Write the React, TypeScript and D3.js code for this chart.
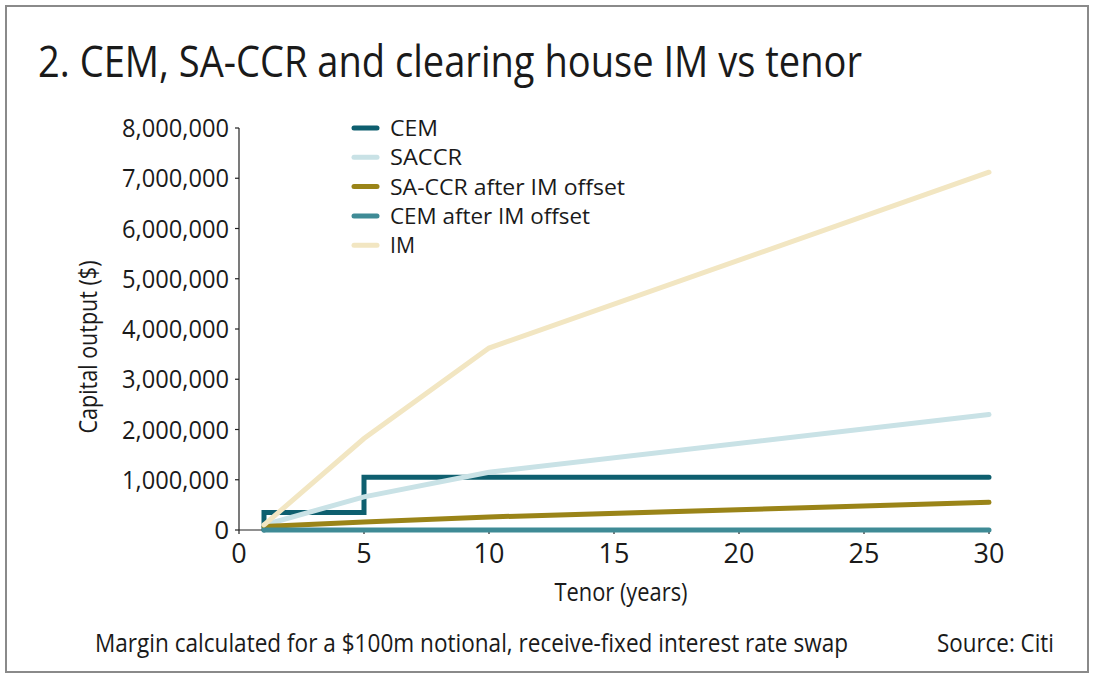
import React from "react";
import * as d3 from "d3";

const W = 1095;
const H = 680;

const tenors = [1, 5, 10, 30];
const cemTenors = [1, 1, 5, 10, 30];
const cemValues = [0, 350000, 1050000, 1050000, 1050000];
const saccrValues = [100000, 660000, 1150000, 2300000];
const saccrAfterIM = [70000, 160000, 260000, 550000];
const cemAfterIM = [0, 0, 0, 0];
const imValues = [100000, 1820000, 3620000, 7120000];

const xTicks = [0, 5, 10, 15, 20, 25, 30];
const yTicks = [0, 1000000, 2000000, 3000000, 4000000, 5000000, 6000000, 7000000, 8000000];

const legendNames = ["CEM", "SACCR", "SA-CCR after IM offset", "CEM after IM offset", "IM"];
const legendWidths = [48, 72, 235, 200, 25];
const colors = ["#0e5f6f", "#c9e2e6", "#9a8418", "#3f8b96", "#f2e6c2"];

const FONT = "'Open Sans', 'Noto Sans', sans-serif";

export default function App() {
  const x = d3.scaleLinear().domain([0, 30]).range([239, 989]);
  const y = d3.scaleLinear().domain([0, 8000000]).range([530, 128]);
  const fmt = d3.format(",");

  const line = d3
    .line<[number, number]>()
    .x((d) => x(d[0]))
    .y((d) => y(d[1]));
  const stepLine = d3
    .line<[number, number]>()
    .x((d) => x(d[0]))
    .y((d) => y(d[1]))
    .curve(d3.curveStepAfter);

  const zip = (xs: number[], ys: number[]) => xs.map((v, i) => [v, ys[i]] as [number, number]);

  const series = [
    { d: stepLine(zip(cemTenors, cemValues)), c: colors[0] },
    { d: line(zip(tenors, saccrValues)), c: colors[1] },
    { d: line(zip(tenors, saccrAfterIM)), c: colors[2] },
    { d: line(zip(tenors, cemAfterIM)), c: colors[3] },
    { d: line(zip(tenors, imValues)), c: colors[4] },
  ];

  return (
    <svg
      width={W}
      height={H}
      style={{ position: "absolute", left: 0, top: 0, background: "#fff" }}
      fontFamily={FONT}
    >
      <rect x={6} y={6} width={1082} height={666} fill="#fff" stroke="#8a8a8a" strokeWidth={2} />
      <text x={38} y={77} fontSize={44} fill="#1a1a1a" textLength={824} lengthAdjust="spacingAndGlyphs">
        2. CEM, SA-CCR and clearing house IM vs tenor
      </text>

      {/* axes */}
      <line x1={x(0)} x2={x(0)} y1={y(8000000)} y2={y(0)} stroke="#222" strokeWidth={1.2} />
      <line x1={x(0)} x2={x(30)} y1={y(0)} y2={y(0)} stroke="#222" strokeWidth={1.2} />
      {yTicks.map((t) => (
        <g key={"y" + t}>
          <line x1={x(0) - 4} x2={x(0)} y1={y(t)} y2={y(t)} stroke="#222" strokeWidth={1.2} />
          <text
            x={229}
            y={y(t) + 9}
            fontSize={26}
            textAnchor="end"
            fill="#1a1a1a"
            textLength={fmt(t).length > 1 ? 107 : undefined}
            lengthAdjust="spacingAndGlyphs"
          >
            {fmt(t)}
          </text>
        </g>
      ))}
      {xTicks.map((t) => (
        <g key={"x" + t}>
          <line x1={x(t)} x2={x(t)} y1={y(0)} y2={y(0) + 4} stroke="#222" strokeWidth={1.2} />
          <text x={x(t)} y={563} fontSize={27} textAnchor="middle" fill="#1a1a1a">
            {t}
          </text>
        </g>
      ))}

      <text
        transform={`translate(97,347) rotate(-90)`}
        fontSize={25}
        textAnchor="middle"
        fill="#1a1a1a"
        textLength={173}
        lengthAdjust="spacingAndGlyphs"
      >
        Capital output ($)
      </text>
      <text x={621} y={601} fontSize={25} textAnchor="middle" fill="#1a1a1a" textLength={133} lengthAdjust="spacingAndGlyphs">
        Tenor (years)
      </text>

      {/* series */}
      {series.map((s, i) => (
        <path key={i} d={s.d || ""} fill="none" stroke={s.c} strokeWidth={5} strokeLinejoin="miter" strokeLinecap="round" />
      ))}

      {/* legend */}
      {legendNames.map((n, i) => (
        <g key={n}>
          <line x1={354} x2={377} y1={128 + i * 29.3} y2={128 + i * 29.3} stroke={colors[i]} strokeWidth={5} strokeLinecap="round" />
          <text
            x={390}
            y={128 + i * 29.3 + 8}
            fontSize={22}
            fill="#1a1a1a"
            textLength={legendWidths[i]}
            lengthAdjust="spacingAndGlyphs"
          >
            {n}
          </text>
        </g>
      ))}

      <text x={95} y={652} fontSize={25} fill="#1a1a1a" textLength={753} lengthAdjust="spacingAndGlyphs">
        Margin calculated for a $100m notional, receive-fixed interest rate swap
      </text>
      <text x={937} y={652} fontSize={25} fill="#1a1a1a" textLength={117} lengthAdjust="spacingAndGlyphs">
        Source: Citi
      </text>
    </svg>
  );
}
